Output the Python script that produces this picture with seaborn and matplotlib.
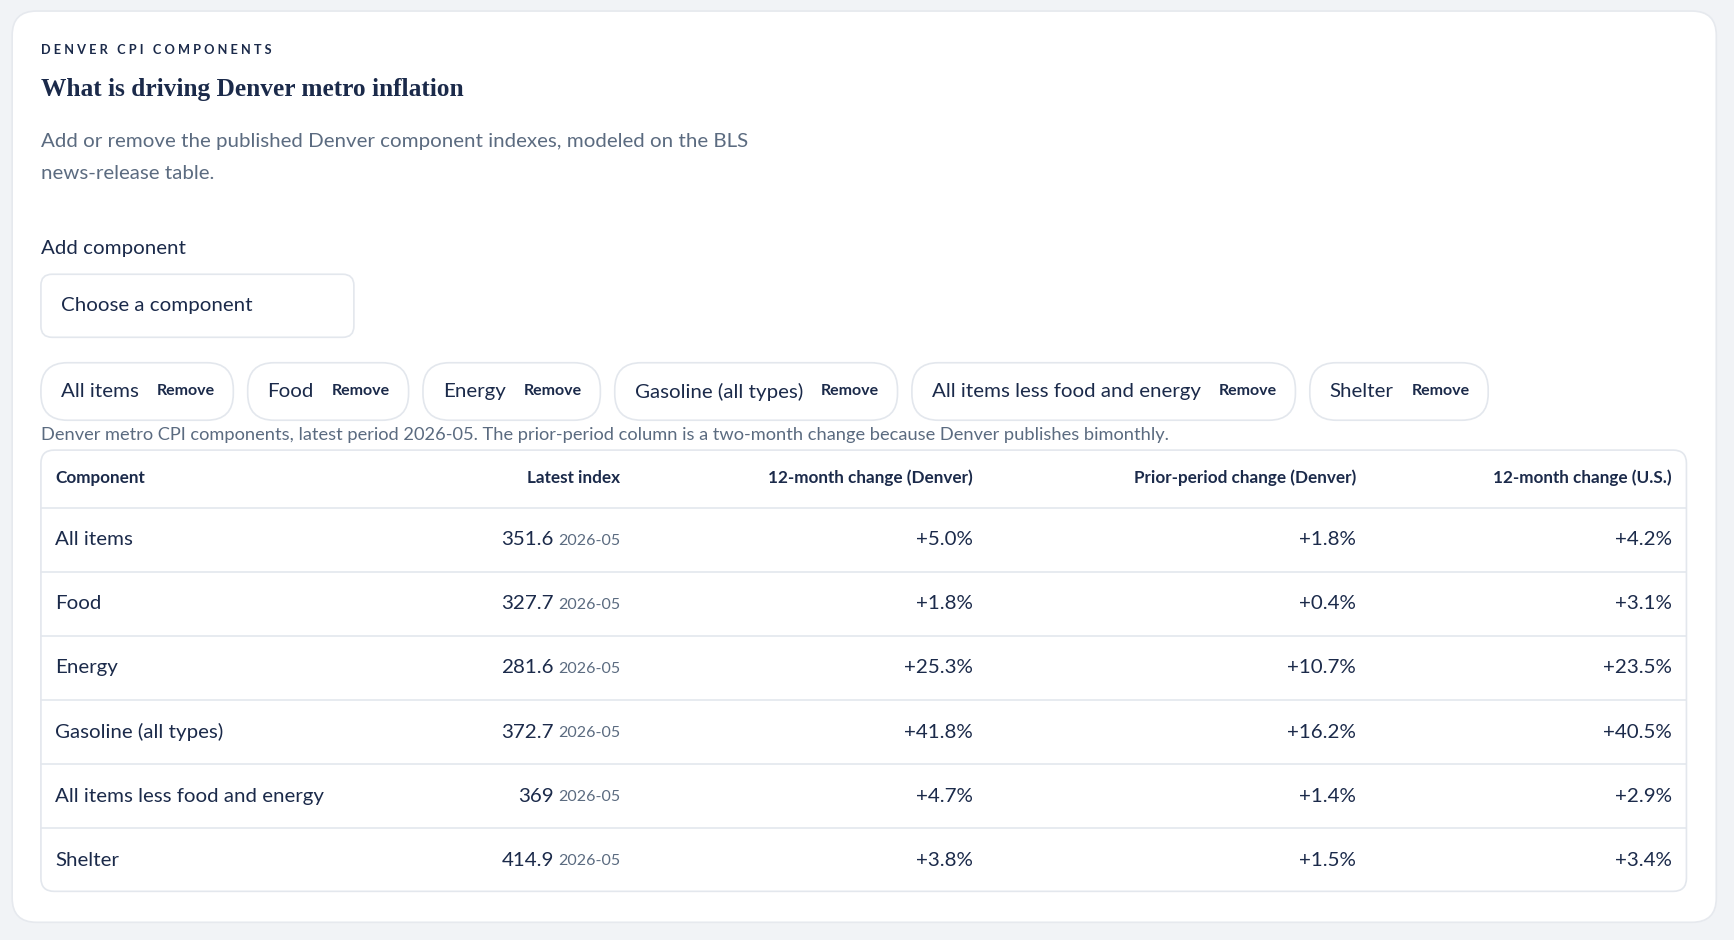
import matplotlib
matplotlib.use("Agg")
import matplotlib.pyplot as plt
import seaborn as sns
from matplotlib.patches import FancyBboxPatch

sns.set_style("white")
plt.rcParams['font.family'] = ['Lato', 'DejaVu Sans']

# data
components = ["All items", "Food", "Energy", "Gasoline (all types)",
              "All items less food and energy", "Shelter"]
latest_index = ["351.6", "327.7", "281.6", "372.7", "369", "414.9"]
period = "2026-05"
chg_12m_denver = [5.0, 1.8, 25.3, 41.8, 4.7, 3.8]
chg_prior_denver = [1.8, 0.4, 10.7, 16.2, 1.4, 1.5]
chg_12m_us = [4.2, 3.1, 23.5, 40.5, 2.9, 3.4]
headers = ["Component", "Latest index", "12-month change (Denver)",
           "Prior-period change (Denver)", "12-month change (U.S.)"]

W, H = 1568, 850
S = 1734 / W
def fs(px):
    return px * S * 0.72

NAVY = "#1b2a4a"
GRAY = "#5b6b80"
LINE = "#e3e7ed"

fig = plt.figure(figsize=(17.34, 9.4), dpi=100)
fig.patch.set_facecolor("#f1f3f6")
ax = fig.add_axes([0, 0, 1, 1])
ax.set_xlim(0, W)
ax.set_ylim(H, 0)
ax.axis("off")

def rbox(x0, y0, x1, y1, r, fc="white", ec=LINE, lw=1.2):
    ax.add_patch(FancyBboxPatch((x0 + r, y0 + r), x1 - x0 - 2 * r, y1 - y0 - 2 * r,
                                boxstyle=f"round,pad={r}", fc=fc, ec=ec, lw=lw))

rbox(11, 10, 1552, 834, 22, ec="#e6e9ee")

ax.text(37, 45, "D E N V E R   C P I   C O M P O N E N T S", fontsize=fs(11.5),
        weight="bold", color=NAVY, va="center")
ax.text(37, 81, "What is driving Denver metro inflation", fontsize=fs(23),
        weight="bold", color=NAVY, va="center", family="Liberation Serif")
ax.text(37, 128, "Add or remove the published Denver component indexes, modeled on the BLS",
        fontsize=fs(18.5), color=GRAY, va="center")
ax.text(37, 157, "news-release table.", fontsize=fs(18.5), color=GRAY, va="center")
ax.text(37, 225, "Add component", fontsize=fs(18.5), color=NAVY, va="center")
rbox(37, 248, 320, 305, 10)
ax.text(55, 276, "Choose a component", fontsize=fs(18.5), color=NAVY, va="center")

# chips sized from rendered text
fig.canvas.draw()
renderer = fig.canvas.get_renderer()
inv = ax.transData.inverted()
def width(t):
    bb = t.get_window_extent(renderer)
    p = inv.transform([[bb.x0, bb.y0], [bb.x1, bb.y1]])
    return p[1][0] - p[0][0]

x = 37
for name in components:
    t1 = ax.text(x + 18, 354, name, fontsize=fs(18.5), color=NAVY, va="center", zorder=3)
    w1 = width(t1)
    t2 = ax.text(x + 18 + w1 + 16, 354, "Remove", fontsize=fs(14.5), weight="bold",
                 color=NAVY, va="center", zorder=3)
    w2 = width(t2)
    x1 = x + 18 + w1 + 16 + w2 + 17
    rbox(x, 328, x1, 380, 24)
    x = x1 + 13

ax.text(37, 393, "Denver metro CPI components, latest period 2026-05. The prior-period column "
        "is a two-month change because Denver publishes bimonthly.",
        fontsize=fs(16.5), color=GRAY, va="center")

# table
rbox(37, 407, 1525, 806, 12)
col_x = [50, 561, 880, 1226, 1512]
for i, h in enumerate(headers):
    ax.text(col_x[i], 432, h, fontsize=fs(15.5), weight="bold", color=NAVY,
            va="center", ha="left" if i == 0 else "right")
row_h = 58
top = 459
for r, name in enumerate(components):
    y0 = top + r * row_h
    ax.plot([37, 1525], [y0, y0], color=LINE, lw=1.2)
    yc = y0 + row_h / 2
    ax.text(50, yc, name, fontsize=fs(18.5), color=NAVY, va="center")
    d = ax.text(561, yc + 1, period, fontsize=fs(14.5), color=GRAY, va="center", ha="right")
    ax.text(561 - width(d) - 4, yc, latest_index[r], fontsize=fs(18.5), color=NAVY,
            va="center", ha="right")
    for c, vals in zip(col_x[2:], [chg_12m_denver, chg_prior_denver, chg_12m_us]):
        ax.text(c, yc, f"{vals[r]:+.1f}%", fontsize=fs(18.5), color=NAVY,
                va="center", ha="right")

fig.savefig("out.png", dpi=100, facecolor=fig.get_facecolor())
